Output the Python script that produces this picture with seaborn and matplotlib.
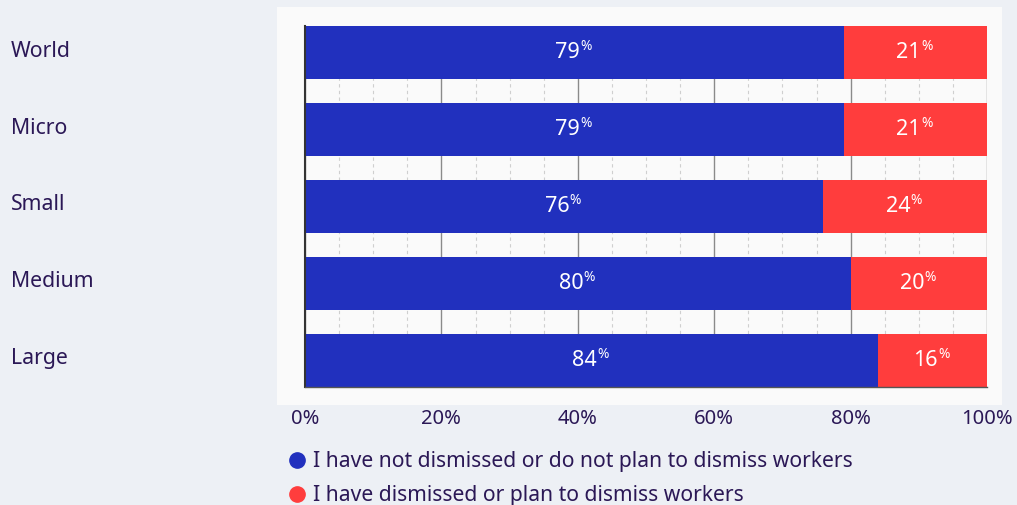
import matplotlib
matplotlib.use("Agg")
import matplotlib.pyplot as plt
import matplotlib.patches as mpatches
import matplotlib.transforms as mtransforms
from matplotlib.lines import Line2D
from matplotlib.ticker import MultipleLocator, FuncFormatter
import seaborn as sns
import pandas as pd
import numpy as np

categories = ["World", "Micro", "Small", "Medium", "Large"]
not_dismissed = [79, 79, 76, 80, 84]
dismissed = [21, 21, 24, 20, 16]
series_labels = ["I have not dismissed or do not plan to dismiss workers",
                 "I have dismissed or plan to dismiss workers"]

blue = "#2130BE"
red = "#FF3D3D"
text_col = "#2B1856"
bg = "#EDF0F5"
panel = "#FAFAFA"

sns.set_style("white")
plt.rcParams["font.family"] = ["Noto Sans", "DejaVu Sans"]

df = pd.DataFrame({"cat": categories, "blue": not_dismissed, "red": dismissed})
df["total"] = df["blue"] + df["red"]

fig = plt.figure(figsize=(10.17, 5.05), dpi=100, facecolor=bg)
fig.patches.append(mpatches.Rectangle((277 / 1017, 1 - 405 / 505), (1002 - 277) / 1017, (405 - 7) / 505,
                                      transform=fig.transFigure, facecolor=panel, edgecolor="none", zorder=-5))
ax = fig.add_axes([305 / 1017, 1 - 387 / 505, (987 - 305) / 1017, (387 - 26) / 505])
ax.set_facecolor("none")

w = 0.69
sns.barplot(data=df, y="cat", x="total", color=red, width=w, orient="h", ax=ax, saturation=1,
            linewidth=0, zorder=3)
sns.barplot(data=df, y="cat", x="blue", color=blue, width=w, orient="h", ax=ax, saturation=1,
            linewidth=0, zorder=3)

ax.set_xlim(0, 100)
ax.set_ylim(len(categories) - 1 + w / 2, -w / 2)
ax.set_xlabel("")
ax.set_ylabel("")

ax.xaxis.set_major_locator(MultipleLocator(20))
ax.xaxis.set_minor_locator(MultipleLocator(5))
ax.xaxis.set_major_formatter(FuncFormatter(lambda v, p: f"{v:.0f}%"))
ax.grid(axis="x", which="major", color="#8a8a8a", lw=1, ls="-", zorder=0)
ax.grid(axis="x", which="minor", color="#cfcfcf", lw=0.8, ls=(0, (3, 3)), zorder=0)
ax.set_axisbelow(True)

for s in ["top", "right"]:
    ax.spines[s].set_visible(False)
ax.spines["left"].set_color("#333333")
ax.spines["left"].set_linewidth(1.5)
ax.spines["left"].set_zorder(6)
ax.spines["bottom"].set_color("#555555")
ax.spines["bottom"].set_linewidth(1)
ax.spines["bottom"].set_zorder(6)

ax.tick_params(axis="x", which="major", length=5, color="#555555", labelsize=14.5, labelcolor=text_col, pad=11)
ax.tick_params(axis="x", which="minor", length=0)
ax.tick_params(axis="y", length=0, labelsize=15.3, labelcolor=text_col, pad=(305 - 11) * 0.72)
up = mtransforms.ScaledTranslation(0, 4 / 100, fig.dpi_scale_trans)
for lab in ax.get_yticklabels():
    lab.set_horizontalalignment("left")
    lab.set_verticalalignment("center_baseline")
    lab.set_transform(lab.get_transform() + up)

for i, row in df.iterrows():
    for xc, v in [(row["blue"] / 2, row["blue"]), (row["blue"] + row["red"] / 2, row["red"])]:
        ax.annotate(f"{v}", (xc, i), xytext=(4, 0), textcoords="offset points",
                    ha="right", va="center", color="white", fontsize=15.5, zorder=5)
        ax.annotate("%", (xc, i), xytext=(4, 4), textcoords="offset points",
                    ha="left", va="center", color="white", fontsize=10, zorder=5)

handles = [Line2D([], [], marker="o", ls="", color=blue, markersize=11),
           Line2D([], [], marker="o", ls="", color=red, markersize=11)]
fig.legend(handles, series_labels, loc="upper left", bbox_to_anchor=(286 / 1017, 1 - 451 / 505),
           frameon=False, fontsize=15.2, labelcolor=text_col, handletextpad=0.3,
           labelspacing=0.62, handlelength=1.0, borderaxespad=0, borderpad=0)

fig.savefig("out.png", dpi=100, facecolor=bg)
